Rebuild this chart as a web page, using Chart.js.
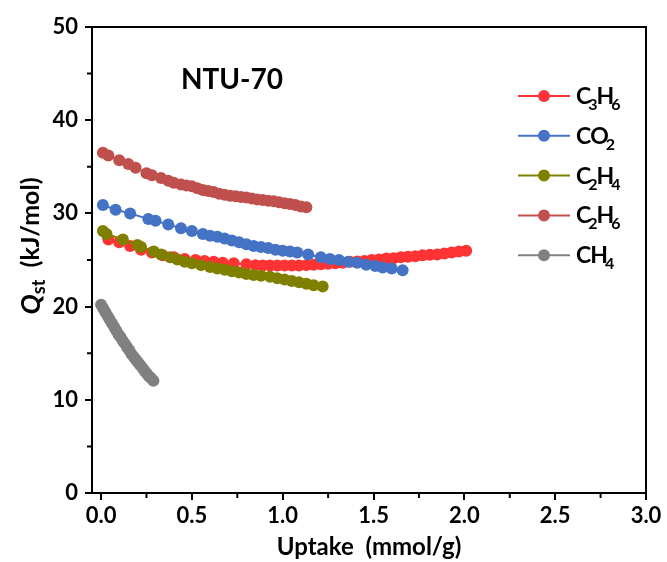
<!DOCTYPE html>
<html>
<head>
<meta charset="utf-8">
<script src="https://cdn.jsdelivr.net/npm/chart.js@4/dist/chart.umd.min.js"></script>
<style>
  body { margin: 0; background: #fff; }
</style>
</head>
<body>
<canvas id="myChart" width="667" height="562"></canvas>
<script>
// series names, legend order
var names = ['C3H6', 'CO2', 'C2H4', 'C2H6', 'CH4']
var colors = ['#FF3333', '#4472C4', '#808000', '#C0504D', '#808080']

// values: uptake (mmol/g) and Qst (kJ/mol)
var c3h6X = [0.04, 0.10, 0.16, 0.22, 0.28, 0.34, 0.40, 0.46, 0.52, 0.57, 0.62, 0.67, 0.73, 0.80, 0.85, 0.89, 0.93, 0.97, 1.01, 1.05, 1.09, 1.13, 1.17, 1.21, 1.25, 1.29, 1.33, 1.37, 1.41, 1.45, 1.49, 1.53, 1.57, 1.61, 1.65, 1.69, 1.73, 1.77, 1.81, 1.85, 1.89, 1.93, 1.97, 2.01]
var c3h6Y = [27.2, 26.9, 26.5, 26.1, 25.8, 25.5, 25.3, 25.1, 25.0, 24.9, 24.8, 24.7, 24.65, 24.55, 24.45, 24.4, 24.4, 24.4, 24.4, 24.4, 24.42, 24.45, 24.5, 24.55, 24.6, 24.65, 24.7, 24.8, 24.85, 24.9, 25.0, 25.05, 25.15, 25.2, 25.3, 25.35, 25.4, 25.5, 25.55, 25.6, 25.7, 25.8, 25.9, 26.0]

var co2X = [0.01, 0.08, 0.16, 0.26, 0.30, 0.37, 0.44, 0.50, 0.56, 0.60, 0.64, 0.68, 0.72, 0.76, 0.80, 0.84, 0.88, 0.92, 0.96, 1.00, 1.04, 1.08, 1.14, 1.21, 1.26, 1.31, 1.36, 1.41, 1.46, 1.51, 1.55, 1.60, 1.66]
var co2Y = [30.9, 30.4, 30.0, 29.4, 29.2, 28.8, 28.4, 28.1, 27.8, 27.6, 27.5, 27.3, 27.1, 26.9, 26.7, 26.5, 26.4, 26.3, 26.1, 26.0, 25.9, 25.8, 25.6, 25.3, 25.1, 25.0, 24.8, 24.7, 24.5, 24.35, 24.2, 24.1, 23.9]

var c2h4X = [0.01, 0.03, 0.12, 0.20, 0.22, 0.29, 0.33, 0.38, 0.42, 0.46, 0.50, 0.55, 0.60, 0.64, 0.68, 0.72, 0.76, 0.80, 0.84, 0.88, 0.93, 0.97, 1.01, 1.05, 1.09, 1.13, 1.17, 1.22]
var c2h4Y = [28.1, 27.8, 27.2, 26.6, 26.4, 25.9, 25.6, 25.3, 25.05, 24.8, 24.65, 24.45, 24.25, 24.1, 23.95, 23.8, 23.65, 23.5, 23.4, 23.3, 23.2, 23.05, 22.9, 22.75, 22.6, 22.45, 22.3, 22.15]

var c2h6X = [0.01, 0.04, 0.10, 0.15, 0.19, 0.25, 0.28, 0.33, 0.37, 0.40, 0.44, 0.47, 0.50, 0.53, 0.56, 0.59, 0.62, 0.65, 0.68, 0.71, 0.74, 0.77, 0.80, 0.83, 0.86, 0.89, 0.92, 0.95, 0.98, 1.01, 1.04, 1.07, 1.10, 1.13]
var c2h6Y = [36.5, 36.2, 35.7, 35.3, 34.9, 34.3, 34.1, 33.8, 33.5, 33.3, 33.1, 33.0, 32.9, 32.7, 32.5, 32.4, 32.3, 32.1, 32.0, 31.9, 31.85, 31.75, 31.7, 31.6, 31.5, 31.45, 31.35, 31.3, 31.2, 31.1, 31.0, 30.9, 30.75, 30.65]

var ch4X = [0.000, 0.012, 0.024, 0.036, 0.048, 0.060, 0.072, 0.084, 0.096, 0.108, 0.120, 0.132, 0.144, 0.156, 0.168, 0.180, 0.192, 0.204, 0.216, 0.228, 0.240, 0.252, 0.264, 0.276, 0.288]
var ch4Y = [20.2, 19.8, 19.4, 19.0, 18.6, 18.2, 17.8, 17.4, 17.0, 16.7, 16.3, 16.0, 15.6, 15.3, 14.9, 14.6, 14.3, 14.0, 13.7, 13.4, 13.1, 12.8, 12.5, 12.3, 12.05]

var xTicks = [0, 0.5, 1.0, 1.5, 2.0, 2.5, 3.0]
var yTicks = [0, 10, 20, 30, 40, 50]
var xMinor = [0.25, 0.75, 1.25, 1.75, 2.25, 2.75]
var yMinor = [5, 15, 25, 35, 45]

var FONT = 'Lato, "Open Sans", sans-serif'

function pts(xs, ys) {
    return xs.map(function(x, i) { return {x: x, y: ys[i]} })
}

var allX = [c3h6X, co2X, c2h4X, c2h6X, ch4X]
var allY = [c3h6Y, co2Y, c2h4Y, c2h6Y, ch4Y]
var drawOrder = [5, 4, 3, 2, 1]

var datasets = names.map(function(n, i) {
    return {
        label: n,
        data: pts(allX[i], allY[i]),
        borderColor: colors[i],
        backgroundColor: colors[i],
        borderWidth: 2,
        pointRadius: 6,
        pointHoverRadius: 6,
        pointBorderWidth: 0,
        order: drawOrder[i]
    }
})

// text with digits as subscripts, e.g. C3H6
function subText(ctx, str, x, y, size, subSize) {
    for (var k = 0; k < str.length; k++) {
        var ch = str[k]
        if (/[0-9]/.test(ch)) {
            ctx.font = 'bold ' + subSize + 'px ' + FONT
            x -= 2
            ctx.fillText(ch, x, y + 6)
        } else {
            ctx.font = 'bold ' + size + 'px ' + FONT
            ctx.fillText(ch, x, y)
        }
        x += ctx.measureText(ch).width - 1
    }
}

var extras = {
    id: 'extras',
    afterDraw: function(chart) {
        var ctx = chart.ctx
        var a = chart.chartArea
        var xs = chart.scales.x
        var ys = chart.scales.y
        ctx.save()
        ctx.strokeStyle = '#000'
        ctx.lineWidth = 2
        // top and right frame
        ctx.beginPath()
        ctx.moveTo(a.left, a.top)
        ctx.lineTo(a.right, a.top)
        ctx.lineTo(a.right, a.bottom)
        ctx.stroke()
        // minor ticks
        ctx.beginPath()
        xMinor.forEach(function(v) {
            var p = xs.getPixelForValue(v)
            ctx.moveTo(p, a.bottom)
            ctx.lineTo(p, a.bottom + 5)
        })
        yMinor.forEach(function(v) {
            var p = ys.getPixelForValue(v)
            ctx.moveTo(a.left, p)
            ctx.lineTo(a.left - 5, p)
        })
        ctx.stroke()

        // label inside plot
        ctx.fillStyle = '#000'
        ctx.font = 'bold 28px ' + FONT
        ctx.textAlign = 'center'
        ctx.textBaseline = 'middle'
        ctx.fillText('NTU-70', 232, 80)

        // legend
        ctx.textAlign = 'left'
        ctx.textBaseline = 'alphabetic'
        names.forEach(function(n, i) {
            var y = 96 + 39.8 * i
            ctx.strokeStyle = colors[i]
            ctx.lineWidth = 2
            ctx.beginPath()
            ctx.moveTo(518, y)
            ctx.lineTo(570, y)
            ctx.stroke()
            ctx.fillStyle = colors[i]
            ctx.beginPath()
            ctx.arc(544, y, 6, 0, Math.PI * 2)
            ctx.fill()
            ctx.fillStyle = '#000'
            subText(ctx, n, 576, y + 8, 23, 16)
        })

        // y axis title: Qst (kJ/mol)
        ctx.translate(31, 246)
        ctx.rotate(-Math.PI / 2)
        ctx.textBaseline = 'middle'
        var w1, w2, w3
        ctx.font = 'italic bold 27px ' + FONT
        w1 = ctx.measureText('Q').width
        ctx.font = 'bold 18px ' + FONT
        w2 = ctx.measureText('st').width
        ctx.font = 'bold 25px ' + FONT
        w3 = ctx.measureText('  (kJ/mol)').width
        var x0 = -(w1 + w2 + w3) / 2
        ctx.font = 'italic bold 27px ' + FONT
        ctx.fillText('Q', x0, 0)
        ctx.font = 'bold 18px ' + FONT
        ctx.fillText('st', x0 + w1, 8)
        ctx.font = 'bold 25px ' + FONT
        ctx.fillText('  (kJ/mol)', x0 + w1 + w2, 0)
        ctx.restore()
    }
}

var ctx = document.getElementById('myChart').getContext('2d')
var chart = new Chart(ctx, {
    type: 'line',
    data: { datasets: datasets },
    options: {
        responsive: false,
        animation: false,
        devicePixelRatio: 1,
        layout: { padding: { top: 27, right: 21, left: 0, bottom: 0 } },
        plugins: { legend: { display: false }, tooltip: { enabled: false } },
        scales: {
            x: {
                type: 'linear',
                min: -0.05,
                max: 3.0,
                afterBuildTicks: function(s) { s.ticks = xTicks.map(function(v) { return {value: v} }) },
                afterFit: function(s) { s.height = 69 },
                grid: { drawOnChartArea: false, color: '#000', lineWidth: 2, tickLength: 7 },
                border: { color: '#000', width: 2 },
                ticks: {
                    color: '#000',
                    padding: 3,
                    maxRotation: 0,
                    font: { family: FONT, weight: 'bold', size: 22 },
                    callback: function(v) { return v.toFixed(1) }
                },
                title: {
                    display: true,
                    text: 'Uptake  (mmol/g)',
                    color: '#000',
                    font: { family: FONT, weight: 'bold', size: 24 },
                    padding: { top: 2, bottom: 0 }
                }
            },
            y: {
                type: 'linear',
                min: 0,
                max: 50,
                afterBuildTicks: function(s) { s.ticks = yTicks.map(function(v) { return {value: v} }) },
                afterFit: function(s) { s.width = 92 },
                grid: { drawOnChartArea: false, color: '#000', lineWidth: 2, tickLength: 7 },
                border: { color: '#000', width: 2 },
                ticks: {
                    color: '#000',
                    padding: 7,
                    font: { family: FONT, weight: 'bold', size: 22 }
                }
            }
        }
    },
    plugins: [extras]
})
</script>
</body>
</html>
